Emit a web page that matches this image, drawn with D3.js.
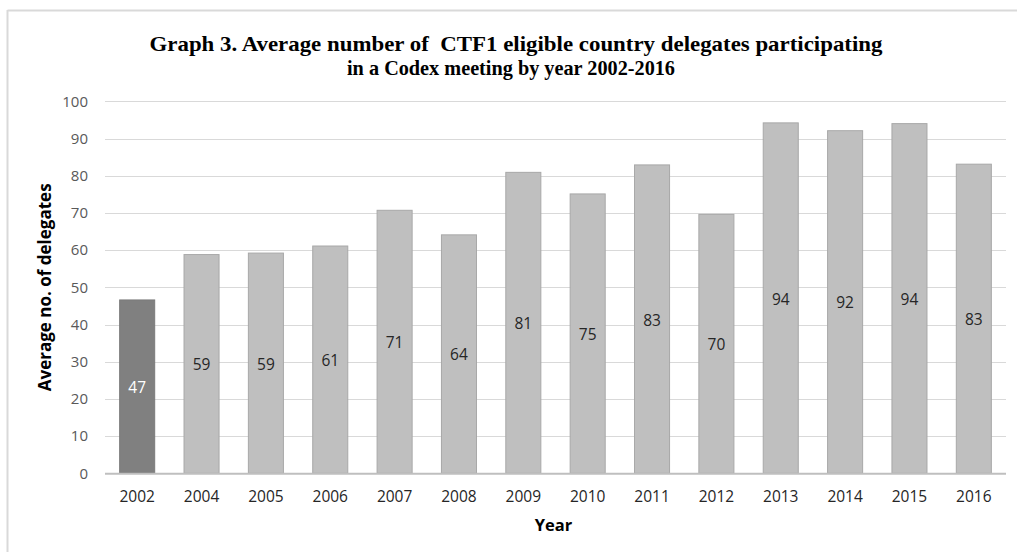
<!DOCTYPE html>
<html><head><meta charset="utf-8">
<script src="https://cdn.jsdelivr.net/npm/d3@7/dist/d3.min.js"></script>
<style>body{margin:0;background:#fff}svg{display:block}</style>
</head><body><svg id="c" width="1017" height="552"></svg>
<script>
const years = ["2002","2004","2005","2006","2007","2008","2009","2010","2011","2012","2013","2014","2015","2016"];
const values = [46.6, 58.8, 59.2, 61.1, 70.7, 64.1, 80.9, 75.1, 82.9, 69.6, 94.2, 92.1, 94.0, 83.1];
const yTicks = [0,10,20,30,40,50,60,70,80,90,100];
const titleLines = ["Graph 3. Average number of  CTF1 eligible country delegates participating","in a Codex meeting by year 2002-2016"];
const titleWidths = [733, 328];
const xTitle = "Year";
const yTitle = "Average no. of delegates";

const svg = d3.select("#c");
const m = {left:105, right:1006, top:101.3, bottom:473.3};
// frame (top and left)
svg.append("line").attr("x1",7.5).attr("x2",1017).attr("y1",10.5).attr("y2",10.5).attr("stroke","#d9d9d9").attr("stroke-width",2);
svg.append("line").attr("x1",7.5).attr("x2",7.5).attr("y1",10).attr("y2",552).attr("stroke","#d9d9d9").attr("stroke-width",2);

const x = d3.scaleBand().domain(years).range([m.left,m.right]).paddingInner(0.44).paddingOuter(0.22);
const y = d3.scaleLinear().domain([0,100]).range([m.bottom,m.top]);

// gridlines
svg.append("g").selectAll("line").data(yTicks.filter(d=>d>0)).join("line")
  .attr("x1",m.left).attr("x2",m.right).attr("y1",d=>Math.round(y(d))+0.5).attr("y2",d=>Math.round(y(d))+0.5)
  .attr("stroke","#d9d9d9").attr("stroke-width",1);

// y tick labels
const yAxis = d3.axisLeft(y).tickValues(yTicks).tickSize(0).tickPadding(0);
const ga = svg.append("g").attr("transform",`translate(88,0)`).call(yAxis);
ga.select(".domain").remove();
ga.selectAll("text").attr("font-family","'Open Sans', sans-serif").attr("font-size","15px").attr("fill","#595959");

// bars
svg.append("g").selectAll("rect").data(values).join("rect")
  .attr("x",(d,i)=>x(years[i])+0.5).attr("width",x.bandwidth()-1)
  .attr("y",d=>y(d)).attr("height",d=>m.bottom-y(d))
  .attr("fill",(d,i)=>i===0?"#808080":"#bfbfbf")
  .attr("stroke",(d,i)=>i===0?"#7a7a7a":"#a8a8a8").attr("stroke-width",1);

// baseline
svg.append("line").attr("x1",m.left).attr("x2",m.right).attr("y1",m.bottom+0.5).attr("y2",m.bottom+0.5).attr("stroke","#bfbfbf").attr("stroke-width",2);

// data labels
svg.append("g").selectAll("text").data(values).join("text")
  .attr("x",(d,i)=>x(years[i])+x.bandwidth()/2)
  .attr("y",d=>(y(d)+m.bottom)/2+1).attr("dy","0.35em")
  .attr("text-anchor","middle").attr("font-family","'Open Sans', sans-serif").attr("font-size","15.5px")
  .attr("fill",(d,i)=>i===0?"#ffffff":"#262626")
  .text(d=>Math.round(d));

// x axis labels
const xAxis = d3.axisBottom(x).tickSize(0).tickPadding(0);
const gx = svg.append("g").attr("transform",`translate(0,${m.bottom})`).call(xAxis);
gx.select(".domain").remove();
gx.selectAll("text").attr("dy",null).attr("y",29).attr("font-family","'Open Sans', sans-serif").attr("font-size","15.5px").attr("fill","#262626");

// axis titles
svg.append("text").attr("x",(m.left+m.right)/2 - 2).attr("y",531).attr("text-anchor","middle")
  .attr("font-family","'Open Sans', sans-serif").attr("font-weight","bold").attr("font-size","16.5px").attr("fill","#000").text(xTitle);
svg.append("text").attr("transform",`translate(51,${(m.top+m.bottom)/2}) rotate(-90)`).attr("text-anchor","middle")
  .attr("font-family","'Open Sans', sans-serif").attr("font-weight","bold").attr("font-size","17px").attr("fill","#000").text(yTitle);

// title
svg.append("g").selectAll("text").data(titleLines).join("text")
  .attr("x",(d,i)=>i===0?516:511).attr("y",(d,i)=>51+i*24).attr("text-anchor","middle")
  .style("white-space","pre")
  .attr("textLength",(d,i)=>titleWidths[i]).attr("lengthAdjust","spacingAndGlyphs")
  .attr("font-family","'Liberation Serif', serif").attr("font-weight","bold").attr("font-size","21px").attr("fill","#000")
  .text(d=>d);
</script></body></html>
